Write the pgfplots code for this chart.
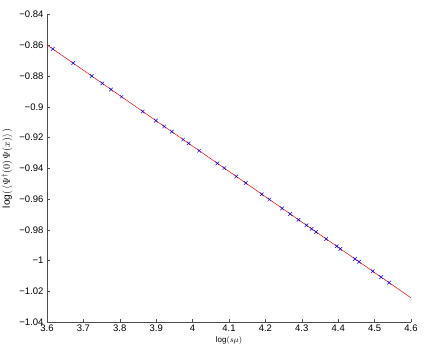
\documentclass[border=0pt]{standalone}
\usepackage{fontspec}
\setmainfont{Liberation Sans}
\usepackage{pgfplots}
\pgfplotsset{compat=1.18}
\begin{document}
\begin{tikzpicture}[x=1pt,y=1pt]
\path[use as bounding box] (-47,-35) rectangle (389,322);
\begin{axis}[
  at={(0,0)}, anchor=south west,
  scale only axis, width=364pt, height=307.5pt,
  xmin=3.6, xmax=4.6, ymin=-1.04, ymax=-0.84,
  axis lines=left, axis line style={-, black!70, line width=0.6pt},
  tick align=inside, major tick length=3pt,
  tick style={black!70, line width=0.5pt},
  xtick={3.6,3.7,...,4.61},
  ytick={-1.04,-1.02,...,-0.839},
  yticklabels={−1.04,−1.02,−1,−0.98,−0.96,−0.94,−0.92,−0.9,−0.88,−0.86,−0.84},
  /pgf/number format/assume math mode=true,
  ticklabel style={font=\fontsize{9.5}{11}\selectfont},
  xticklabel style={yshift=1pt},
  xlabel={$\log(s\mu)$},
  ylabel={$\log(\,\langle\Psi^{\dagger}(0)\,\Psi(x)\rangle\,)$},
  label style={font=\fontsize{8}{10}\selectfont},
  xlabel style={yshift=2pt},
  every axis y label/.style={at={(axis description cs:-0.11,0.5)}, rotate=90, anchor=center},
  clip=false,
]
\addplot[red, line width=0.5pt] coordinates {(3.6,-0.8598) (4.6,-1.0243)};
\addplot[only marks, mark=x, mark size=2.5pt, blue, mark options={line width=0.5pt}] coordinates {
(3.616,-0.8624) (3.672,-0.8716) (3.723,-0.8800) (3.752,-0.8848) (3.776,-0.8888)
(3.805,-0.8935) (3.863,-0.9031) (3.899,-0.9090) (3.922,-0.9128) (3.943,-0.9162)
(3.974,-0.9213) (3.989,-0.9238) (4.018,-0.9286) (4.068,-0.9368) (4.087,-0.9399)
(4.120,-0.9453) (4.146,-0.9496) (4.190,-0.9569) (4.211,-0.9603) (4.246,-0.9661)
(4.268,-0.9697) (4.291,-0.9735) (4.313,-0.9771) (4.327,-0.9794) (4.339,-0.9814)
(4.367,-0.9860) (4.396,-0.9907) (4.406,-0.9924) (4.446,-0.9990) (4.457,-1.0008)
(4.495,-1.0070) (4.518,-1.0108) (4.540,-1.0144)
};
\end{axis}
\end{tikzpicture}
\end{document}
